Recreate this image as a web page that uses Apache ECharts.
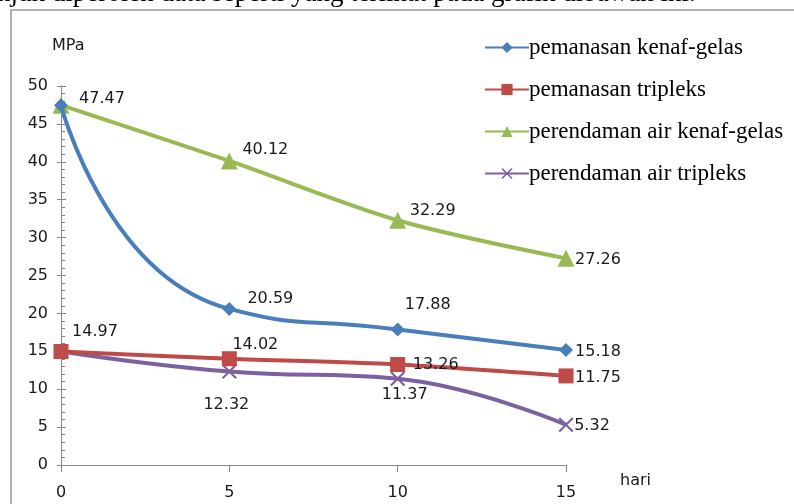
<!DOCTYPE html>
<html>
<head>
<meta charset="utf-8">
<script src="https://cdn.jsdelivr.net/npm/echarts@6/dist/echarts.min.js"></script>
<style>
  html, body { margin: 0; padding: 0; background: #fff; }
  #chart { width: 794px; height: 504px; }
</style>
</head>
<body>
<div id="chart"></div>
<script>
// Days of exposure (x) and tensile strength in MPa (y)
const days = [0, 5, 10, 15];
const yTicks = [0, 5, 10, 15, 20, 25, 30, 35, 40, 45, 50];

const heatKenaf   = [47.47, 20.59, 17.88, 15.18];
const heatTriplex = [14.97, 14.02, 13.26, 11.75];
const soakKenaf   = [47.47, 40.12, 32.29, 27.26];
const soakTriplex = [14.97, 12.32, 11.37, 5.32];

const seriesNames = [
  'pemanasan kenaf-gelas',
  'pemanasan tripleks',
  'perendaman air kenaf-gelas',
  'perendaman air tripleks'
];
const colors = ['#4A7EBB', '#BE4B48', '#98B954', '#7D60A0'];
const smoothness = [0.6, 0.3, 0.3, 0.45];

// label offsets (from the point) per series/point; null hides the label
const labelOffsets = [
  [null, [41, -10], [30, -25], [32, 2]],
  [[34, -20], [26, -14], [38, 0], [32, 2]],
  [[41, -6], [36, -11], [35, -9], [32, 1]],
  [null, [-3, 33], [7, 16], [26, 1]]
];

const crossPath = 'path://M0,1 L1,0 L5,4 L9,0 L10,1 L6,5 L10,9 L9,10 L5,6 L1,10 L0,9 L4,5 Z';
const symbols = ['diamond', 'rect', 'triangle', crossPath];
const symbolSizes = [14, 15, 17, 15];
const valueSets = [heatKenaf, heatTriplex, soakKenaf, soakTriplex];

const labelFont = { fontFamily: 'DejaVu Sans', fontSize: 16, color: '#1a1a1a' };

function buildSeries(i) {
  return {
    name: seriesNames[i],
    type: 'line',
    smooth: smoothness[i],
    symbol: symbols[i],
    symbolSize: symbolSizes[i],
    showAllSymbol: true,
    z: 10 - i,
    lineStyle: { color: colors[i], width: 4 },
    itemStyle: { color: colors[i] },
    data: valueSets[i].map((v, j) => {
      const off = labelOffsets[i][j];
      return {
        value: [days[j], v],
        label: off ? {
          show: true, position: 'inside', offset: off,
          formatter: v.toFixed(2), ...labelFont
        } : { show: false }
      };
    })
  };
}

const axisGray = '#868686';
const chart = echarts.init(document.getElementById('chart'), null, { renderer: 'canvas' });
chart.setOption({
  animation: false,
  backgroundColor: '#fff',
  color: colors,
  grid: { left: 61, right: 228, top: 86, bottom: 39, containLabel: false },
  legend: {
    orient: 'vertical',
    left: 479,
    top: 31,
    itemWidth: 44,
    itemHeight: 14,
    itemGap: 19,
    textStyle: {
      fontFamily: 'Liberation Serif', fontSize: 23, lineHeight: 20,
      color: '#000', padding: [0, 0, 0, -5]
    },
    data: seriesNames
  },
  xAxis: {
    type: 'value',
    min: 0, max: 15, interval: 5,
    axisLine: { show: true, onZero: false, lineStyle: { color: axisGray, width: 1 } },
    axisTick: { show: true, length: 7, lineStyle: { color: axisGray } },
    axisLabel: { margin: 20, ...labelFont },
    splitLine: { show: false }
  },
  yAxis: [{
    type: 'value',
    min: 0, max: 50, interval: 5,
    axisLine: { show: true, lineStyle: { color: axisGray, width: 1 } },
    axisTick: { show: true, length: 4, lineStyle: { color: axisGray } },
    axisLabel: { margin: 13, ...labelFont, formatter: v => yTicks.includes(v) ? String(v) : '' },
    splitLine: { show: false }
  }, {
    type: 'value',
    position: 'left',
    min: 0, max: 50, interval: 5,
    axisLine: { show: false },
    axisTick: { show: true, inside: true, length: 5, lineStyle: { color: axisGray } },
    minorTick: { show: true, splitNumber: 5, length: 4, lineStyle: { color: axisGray } },
    axisLabel: { show: false },
    splitLine: { show: false }
  }],
  series: [0, 1, 2, 3].map(buildSeries),
  graphic: [
    {
      type: 'rect',
      shape: { x: 11, y: 10, width: 800, height: 520 },
      style: { fill: 'none', stroke: '#9a9a9a', lineWidth: 1.5 },
      silent: true, z: -1
    },
    {
      type: 'text', left: -3, top: -20,
      style: {
        text: 'njuk diperoleh data seperti yang terlihat pada grafik dibawah ini.',
        fontFamily: 'Liberation Serif', fontSize: 27, fill: '#000'
      }
    },
    {
      type: 'text', left: 52, top: 38,
      style: { text: 'MPa', ...labelFont, fill: '#1a1a1a' }
    },
    {
      type: 'text', left: 620, top: 473,
      style: { text: 'hari', ...labelFont, fill: '#1a1a1a' }
    }
  ]
});
</script>
</body>
</html>
